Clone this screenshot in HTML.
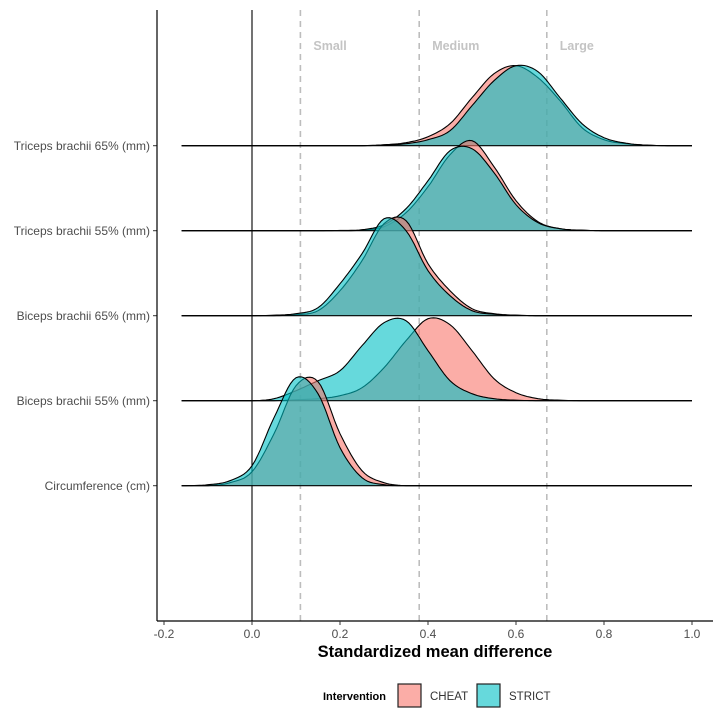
<!DOCTYPE html>
<html><head><meta charset="utf-8"><style>
body{margin:0;background:#fff}
svg{display:block;font-family:"Liberation Sans",Arial,sans-serif}
</style></head><body>
<svg id="chart" width="722" height="720"></svg>
<script>
const categories = ["Triceps brachii 65% (mm)","Triceps brachii 55% (mm)","Biceps brachii 65% (mm)","Biceps brachii 55% (mm)","Circumference (cm)"];
const xTicks = [-0.2,0.0,0.2,0.4,0.6,0.8,1.0];
const xTickLabels = ["-0.2","0.0","0.2","0.4","0.6","0.8","1.0"];
const thresholds = [0.11,0.38,0.67];
const thresholdLabels = ["Small","Medium","Large"];
// density grid x values (step 0.05 from -0.15 to 1.0)
const gridX = [-0.15,-0.10,-0.05,0.00,0.05,0.10,0.15,0.20,0.25,0.30,0.35,0.40,0.45,0.50,0.55,0.60,0.65,0.70,0.75,0.80,0.85,0.90,0.95,1.00];
// heights in px above baseline
const cheatT65 = [0,0,0,0,0,0,0,0,0,1,3,9,22,48,72,80,68,45,18,6,2,0.5,0,0];
const strictT65= [0,0,0,0,0,0,0,0,0,0.5,2,6,15,40,65,80,74,48,22,8,2.5,0.5,0,0];
const cheatT55 = [0,0,0,0,0,0,0,0,0.5,4,18,44,76,90,64,30,9,2,0.5,0,0,0,0,0];
const strictT55= [0,0,0,0,0,0,0,0.3,1,6,22,50,80,82,58,26,8,2,0.5,0,0,0,0,0];
const cheatB65 = [0,0,0,0,0,1,5,25,55,92,95,52,25,7,2,0.5,0,0,0,0,0,0,0,0];
const strictB65= [0,0,0,0,0.5,2,8,32,62,97,85,45,20,5,1.5,0.5,0,0,0,0,0,0,0,0];
const cheatB55 = [0,0,0,0,0,1,2,5,13,33,60,82,76,50,22,8,2,0.5,0,0,0,0,0,0];
const strictB55= [0,0,0,0,2,10,20,30,55,78,80,50,20,7,2,0.5,0,0,0,0,0,0,0,0];
const cheatC   = [0,0,3,14,52,100,104,52,15,3,0,0,0,0,0,0,0,0,0,0,0,0,0,0];
const strictC  = [0,1,5,20,68,108,92,38,8,1,0,0,0,0,0,0,0,0,0,0,0,0,0,0];
const cheatSeries = [cheatT65,cheatT55,cheatB65,cheatB55,cheatC];
const strictSeries = [strictT65,strictT55,strictB65,strictB55,strictC];

const NS="http://www.w3.org/2000/svg";
const svg=document.getElementById('chart');
const x0=252, xs=440, axisY=621;
const X=v=>x0+v*xs;
const rowY=i=>145.7+i*85;
const domMin=-0.16, domMax=1.0;
function mk(tag,attrs,parent){const e=document.createElementNS(NS,tag);for(const k in attrs)e.setAttribute(k,attrs[k]);(parent||svg).appendChild(e);return e;}
function txt(s,attrs){const e=mk('text',attrs);e.textContent=s;return e;}

thresholds.forEach((t,i)=>{
  const l=mk('line',{x1:X(t),x2:X(t),y1:10,y2:axisY,stroke:'#bdbdbd','stroke-width':1.6,'stroke-dasharray':'6,5'});
  
  
  const t2=txt(thresholdLabels[i],{x:X(t)+13,y:50,'font-size':12.5,'font-weight':'bold',fill:'#c4c4c4'});
  
  
});
const z=mk('line',{x1:X(0),x2:X(0),y1:10,y2:axisY,stroke:'#000','stroke-width':1.1});



function curvePts(vals){
  const pts=[[X(domMin),0]];
  const n=gridX.length;
  for(let i=0;i<n-1;i++){
    const p0=vals[Math.max(i-1,0)],p1=vals[i],p2=vals[i+1],p3=vals[Math.min(i+2,n-1)];
    for(let s=0;s<8;s++){
      const t=s/8;
      const y=0.5*((2*p1)+(-p0+p2)*t+(2*p0-5*p1+4*p2-p3)*t*t+(-p0+3*p1-3*p2+p3)*t*t*t);
      pts.push([X(gridX[i]+0.05*t),Math.max(0,y)]);
    }
  }
  pts.push([X(gridX[n-1]),vals[n-1]]);
  return pts;
}
function drawDensity(vals,base,fill,name){
  const pts=curvePts(vals);
  let d='M'+pts.map(p=>p[0].toFixed(1)+','+(base-p[1]).toFixed(1)).join('L');
  const a=mk('path',{d:d+'L'+X(domMax)+','+base+'Z',fill:fill,'fill-opacity':0.6,stroke:'none'});
  
  
  const l=mk('path',{d:d,fill:'none',stroke:'#000','stroke-width':1.1});
  
  
}
categories.forEach((c,i)=>{
  const b=rowY(i);
  drawDensity(cheatSeries[i],b,'#F8766D','cheat-density-'+i);
  drawDensity(strictSeries[i],b,'#00BFC4','strict-density-'+i);
  const bl=mk('line',{x1:X(domMin),x2:X(domMax),y1:b,y2:b,stroke:'#000','stroke-width':1.2});
  
  
  const lab=txt(c,{x:150,y:b+4.5,'font-size':12,fill:'#4d4d4d','text-anchor':'end'});
  
  
  const tk=mk('line',{x1:153,x2:157,y1:b,y2:b,stroke:'#333'});
  
  
});
const ya=mk('line',{x1:157,x2:157,y1:10,y2:axisY,stroke:'#000','stroke-width':1.2});


const xa=mk('line',{x1:157,x2:713,y1:axisY,y2:axisY,stroke:'#000','stroke-width':1.2});


xTicks.forEach((t,i)=>{
  const tk=mk('line',{x1:X(t),x2:X(t),y1:axisY,y2:axisY+4,stroke:'#333'});
  
  
  const l=txt(xTickLabels[i],{x:X(t),y:638,'font-size':12,fill:'#4d4d4d','text-anchor':'middle'});
  
  
});
const xt=txt('Standardized mean difference',{x:435,y:657,'font-size':16.5,'font-weight':'bold',fill:'#000','text-anchor':'middle'});


const lt=txt('Intervention',{x:323,y:700,'font-size':11,'font-weight':'bold',fill:'#000'});


[['CHEAT','#F8766D',398],['STRICT','#00BFC4',477]].forEach(([n,c,x])=>{
  const r=mk('rect',{x:x,y:684,width:23,height:23,fill:c,'fill-opacity':0.6,stroke:'#222','stroke-width':1.2});
  
  
  const t=txt(n,{x:x+32,y:700,'font-size':11.5,fill:'#333'});
  
  
});
</script>
</body></html>
